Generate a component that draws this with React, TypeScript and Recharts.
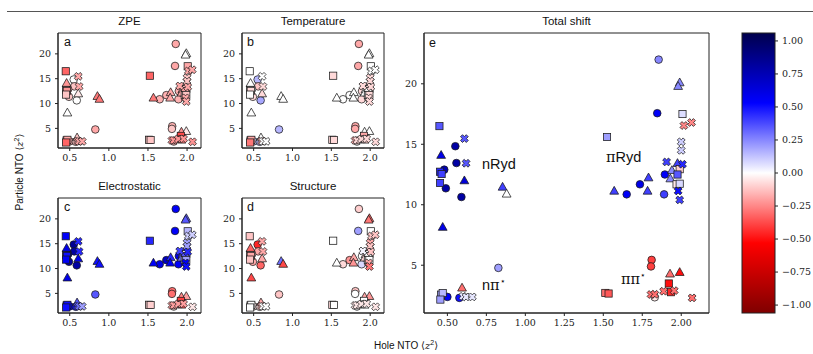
import React from 'react';
import { ScatterChart, Scatter, XAxis, YAxis, ReferenceArea } from 'recharts';

// ---------------- data ----------------
const circleHoleX = [1.855, 1.846, 0.551, 0.558, 0.48, 0.49, 0.59, 1.895, 1.65, 1.735, 1.89, 0.827, 1.81, 1.806, 1.83, 0.5, 0.577];
const circleParticleY = [22.0, 17.57, 14.84, 13.45, 12.9, 11.36, 10.64, 12.5, 10.86, 11.69, 10.86, 4.78, 5.44, 4.9, 2.35, 2.38, 2.3];
const circleZPE = [-0.18, -0.18, 0.0, -0.12, -0.16, -0.12, 0.0, -0.16, -0.16, -0.16, -0.16, -0.18, -0.16, -0.12, -0.12, -0.16, -0.12];
const circleTemp = [-0.18, -0.18, 0.15, -0.12, 0.0, -0.08, 0.18, -0.08, 0.0, 0.0, -0.08, 0.15, -0.18, -0.18, 0.0, 0.1, 0.15];
const circleElec = [0.55, 0.55, 0.85, 0.8, 0.8, 0.8, 0.8, 0.6, 0.6, 0.7, 0.55, 0.35, -0.3, -0.3, -0.05, 0.55, 0.5];
const circleStruct = [-0.1, 0.2, -0.45, -0.18, -0.12, -0.18, -0.32, 0.0, -0.08, -0.22, 0.08, -0.12, -0.12, 0.0, 0.0, -0.05, -0.05];
const circleTotal = [0.25, 0.55, 0.8, 0.8, 0.75, 0.8, 0.8, 0.55, 0.55, 0.6, 0.4, 0.2, -0.4, -0.4, -0.05, 0.55, 0.5];

const triangleHoleX = [1.99, 1.98, 0.46, 0.609, 0.854, 0.88, 1.79, 1.57, 1.784, 1.976, 1.94, 1.93, 0.47, 1.928, 1.99, 0.594];
const triangleParticleY = [20.1, 19.8, 14.1, 12.0, 11.47, 10.9, 12.24, 11.14, 11.14, 13.43, 12.85, 12.16, 8.15, 4.29, 4.42, 3.13];
const triangleZPE = [0.0, 0.0, -0.22, -0.05, -0.28, -0.28, -0.18, -0.28, -0.18, -0.18, -0.18, -0.18, 0.0, -0.22, -0.05, -0.12];
const triangleTemp = [0.0, 0.0, 0.0, -0.08, 0.0, 0.0, 0.0, 0.0, 0.0, 0.0, 0.0, 0.0, 0.0, 0.0, 0.0, 0.0];
const triangleElec = [0.35, 0.35, 0.6, 0.6, 0.5, 0.5, 0.45, 0.55, 0.55, 0.4, 0.3, 0.3, 0.6, -0.25, -0.2, 0.35];
const triangleStruct = [-0.32, -0.28, -0.32, -0.18, 0.3, -0.38, -0.18, 0.0, -0.22, -0.12, -0.08, -0.08, -0.38, -0.18, -0.22, -0.18];
const triangleTotal = [0.25, 0.25, 0.6, 0.65, 0.4, 0.0, 0.4, 0.4, 0.4, 0.4, 0.25, 0.25, 0.6, -0.3, -0.5, -0.3];

const squareHoleX = [0.449, 1.524, 2.008, 0.453, 0.463, 0.453, 1.99, 1.976, 1.97, 1.99, 1.92, 1.513, 1.534, 1.934, 0.46, 0.47, 0.455];
const squareParticleY = [16.5, 15.6, 17.5, 12.73, 12.54, 11.8, 12.94, 12.5, 11.69, 11.74, 3.49, 2.71, 2.66, 2.77, 2.57, 2.7, 2.16];
const squareZPE = [-0.32, -0.32, -0.18, -0.18, -0.22, -0.12, -0.12, -0.18, -0.12, -0.12, -0.38, -0.12, -0.12, -0.28, -0.18, -0.18, -0.32];
const squareTemp = [0.0, -0.08, 0.0, 0.0, -0.08, 0.0, -0.08, 0.0, 0.0, -0.08, -0.18, -0.08, -0.08, -0.12, -0.12, -0.18, -0.28];
const squareElec = [0.55, 0.45, 0.15, 0.55, 0.5, 0.55, 0.0, 0.35, 0.15, 0.2, -0.4, -0.1, -0.1, -0.35, 0.5, 0.5, 0.5];
const squareStruct = [-0.12, 0.0, 0.0, -0.12, -0.18, -0.12, 0.0, 0.0, 0.0, 0.0, 0.0, -0.08, 0.0, 0.0, -0.08, 0.0, 0.0];
const squareTotal = [0.35, 0.2, 0.07, 0.45, 0.4, 0.4, -0.1, 0.35, -0.05, 0.08, -0.5, -0.3, -0.35, -0.45, 0.2, 0.15, 0.2];

const crossHoleX = [2.017, 2.066, 0.609, 2.0, 2.0, 0.62, 1.906, 2.008, 1.98, 1.99, 1.806, 1.83, 1.887, 1.955, 2.07, 0.6, 0.62, 0.66];
const crossParticleY = [16.55, 16.8, 15.47, 15.2, 14.5, 13.43, 13.54, 13.35, 11.14, 10.4, 2.58, 2.6, 2.85, 2.9, 2.3, 2.43, 2.38, 2.38];
const crossZPE = [-0.18, -0.18, -0.18, -0.12, -0.12, -0.18, -0.18, -0.18, -0.18, -0.18, -0.22, -0.22, -0.22, -0.22, -0.22, -0.18, -0.18, -0.18];
const crossTemp = [0.0, 0.0, 0.0, -0.08, -0.08, -0.08, -0.08, -0.08, -0.08, -0.08, -0.18, -0.08, -0.08, -0.08, -0.08, -0.18, 0.0, 0.0];
const crossElec = [0.1, 0.1, 0.45, 0.2, 0.2, 0.45, 0.4, 0.45, 0.55, 0.5, -0.2, -0.2, -0.2, -0.2, -0.05, 0.35, 0.3, 0.2];
const crossStruct = [-0.12, -0.12, -0.18, -0.18, -0.12, -0.18, 0.02, -0.12, -0.18, -0.28, -0.05, -0.05, -0.05, -0.05, -0.05, -0.18, 0.0, 0.0];
const crossTotal = [-0.25, -0.25, 0.35, 0.1, 0.1, 0.35, 0.4, 0.45, 0.5, 0.4, -0.3, -0.3, -0.3, -0.3, -0.3, 0.05, 0.05, 0.05];

const smallXTicks = [0.5, 1.0, 1.5, 2.0];
const bigXTicks = [0.5, 0.75, 1.0, 1.25, 1.5, 1.75, 2.0];
const yTicks = [5, 10, 15, 20];
const colorbarTicks = [-1, -0.75, -0.5, -0.25, 0, 0.25, 0.5, 0.75, 1];

// ---------------- styling helpers ----------------
const VMIN = -1.06;
const VMAX = 1.06;
const X_DOMAIN: [number, number] = [0.35, 2.178];
const Y_DOMAIN: [number, number] = [1.05, 24.2];
const SERIF = "'DejaVu Serif', serif";
const SANS = "'Liberation Sans', Arial, sans-serif";

function seismicR(v: number): string {
  let t = (v - VMIN) / (VMAX - VMIN);
  t = Math.max(0, Math.min(1, t));
  const s = 1 - t;
  let r: number, g: number, b: number;
  if (s < 0.25) { r = 0; g = 0; b = 0.3 + 0.7 * (s / 0.25); }
  else if (s < 0.5) { const u = (s - 0.25) / 0.25; r = u; g = u; b = 1; }
  else if (s < 0.75) { const u = (s - 0.5) / 0.25; r = 1; g = 1 - u; b = 1 - u; }
  else { const u = (s - 0.75) / 0.25; r = 1 - 0.5 * u; g = 0; b = 0; }
  return `rgb(${Math.round(r * 255)},${Math.round(g * 255)},${Math.round(b * 255)})`;
}

function crossPath(cx: number, cy: number, L: number, w: number): string {
  const pts = [[-w, -L], [w, -L], [w, -w], [L, -w], [L, w], [w, w], [w, L], [-w, L], [-w, w], [-L, w], [-L, -w], [-w, -w]];
  const c = Math.SQRT1_2;
  return pts.map(([x, y], i) => {
    const rx = cx + (x * c - y * c);
    const ry = cy + (x * c + y * c);
    return `${i === 0 ? 'M' : 'L'}${rx.toFixed(2)},${ry.toFixed(2)}`;
  }).join(' ') + ' Z';
}

const makeShape = (kind: string) => (props: any) => {
  const { cx, cy } = props;
  if (cx == null || cy == null || isNaN(cx) || isNaN(cy)) return <g />;
  const v = props.payload?.v ?? props.v ?? 0;
  const common = { fill: seismicR(v), stroke: '#1a1a1a', strokeWidth: 0.75 };
  if (kind === 'o') return <circle cx={cx} cy={cy} r={3.8} {...common} />;
  if (kind === '^') return <polygon points={`${cx},${cy - 4.6} ${cx + 4.4},${cy + 3.2} ${cx - 4.4},${cy + 3.2}`} {...common} />;
  if (kind === 's') return <rect x={cx - 3.6} y={cy - 3.6} width={7.2} height={7.2} {...common} />;
  return <path d={crossPath(cx, cy, 4.1, 1.45)} {...common} />;
};

type PanelKey = 'zpe' | 'temp' | 'elec' | 'struct' | 'total';

const markerSets = [
  { kind: 'o', xs: circleHoleX, ys: circleParticleY, vals: { zpe: circleZPE, temp: circleTemp, elec: circleElec, struct: circleStruct, total: circleTotal } },
  { kind: '^', xs: triangleHoleX, ys: triangleParticleY, vals: { zpe: triangleZPE, temp: triangleTemp, elec: triangleElec, struct: triangleStruct, total: triangleTotal } },
  { kind: 's', xs: squareHoleX, ys: squareParticleY, vals: { zpe: squareZPE, temp: squareTemp, elec: squareElec, struct: squareStruct, total: squareTotal } },
  { kind: 'X', xs: crossHoleX, ys: crossParticleY, vals: { zpe: crossZPE, temp: crossTemp, elec: crossElec, struct: crossStruct, total: crossTotal } },
];

const tickStyle = { fontSize: 9.5, fontFamily: SERIF, fill: '#222' };

function Panel(p: { k: PanelKey; left: number; top: number; right: number; bottom: number; yw: number; xticks: number[]; fmt: (v: number) => string }) {
  const xh = 24;
  const ml = 2, mt = 2, mr = 4, mb = 2;
  const chartLeft = p.left - p.yw - ml;
  const chartTop = p.top - mt;
  const width = p.right - chartLeft + mr;
  const height = p.bottom - chartTop + xh + mb;
  return (
    <div style={{ position: 'absolute', left: chartLeft, top: chartTop }}>
      <ScatterChart width={width} height={height} margin={{ top: mt, right: mr, bottom: mb, left: ml }}>
        <XAxis type="number" dataKey="x" domain={X_DOMAIN} ticks={p.xticks} interval={0} allowDataOverflow
          tickFormatter={p.fmt} tickSize={3} tickMargin={3} height={xh} stroke="#222" tick={tickStyle} />
        <YAxis type="number" dataKey="y" domain={Y_DOMAIN} ticks={yTicks} interval={0} allowDataOverflow
          tickSize={3} tickMargin={4} width={p.yw} stroke="#222" tick={tickStyle} />
        <ReferenceArea x1={X_DOMAIN[0]} x2={X_DOMAIN[1]} y1={Y_DOMAIN[0]} y2={Y_DOMAIN[1]} fill="#fff" fillOpacity={1} stroke="#222" strokeWidth={1} ifOverflow="visible" />
        {markerSets.map((m) => (
          <Scatter key={m.kind} data={m.xs.map((x, i) => ({ x, y: m.ys[i], v: m.vals[p.k][i] }))}
            shape={makeShape(m.kind)} isAnimationActive={false} />
        ))}
      </ScatterChart>
    </div>
  );
}

const fmt1 = (v: number) => v.toFixed(1);
const fmt2 = (v: number) => v.toFixed(2);
const fmtCb = (v: number) => (v < 0 ? '\u2212' + Math.abs(v).toFixed(2) : v.toFixed(2));

function Colorbar() {
  const left = 742, top = 33, right = 775, bottom = 313;
  const ys = (v: number) => top + ((VMAX - v) / (VMAX - VMIN)) * (bottom - top);
  const stops = [] as React.ReactElement[];
  for (let i = 0; i <= 40; i++) {
    const f = i / 40;
    const v = VMAX - f * (VMAX - VMIN);
    stops.push(<stop key={i} offset={f} stopColor={seismicR(v)} />);
  }
  return (
    <g>
      <defs>
        <linearGradient id="cbGrad" x1="0" y1="0" x2="0" y2="1">{stops}</linearGradient>
      </defs>
      <rect x={left} y={top} width={right - left} height={bottom - top} fill="url(#cbGrad)" stroke="#222" strokeWidth={1} />
      {colorbarTicks.map((t) => (
        <g key={t}>
          <line x1={right} x2={right + 3} y1={ys(t)} y2={ys(t)} stroke="#222" strokeWidth={1} />
          <text x={right + 7} y={ys(t)} dy="0.35em" fontFamily={SERIF} fontSize={9.5} fill="#222">{fmtCb(t)}</text>
        </g>
      ))}
    </g>
  );
}

export default function App() {
  const title = { fontFamily: SANS, fontSize: 11.5, fill: '#111', textAnchor: 'middle' as const };
  const letter = { fontFamily: SANS, fontSize: 12.5, fill: '#111' };
  const ann = { fontFamily: SANS, fontSize: 14.5, fill: '#111' };
  return (
    <div style={{ position: 'absolute', left: 0, top: 0, width: 813, height: 354, overflow: 'hidden', background: '#fff' }}>
      <Panel k="zpe" left={58} top={33} right={201} bottom={148} yw={30} xticks={smallXTicks} fmt={fmt1} />
      <Panel k="temp" left={242} top={33} right={384} bottom={148} yw={30} xticks={smallXTicks} fmt={fmt1} />
      <Panel k="elec" left={58} top={198} right={201} bottom={313} yw={30} xticks={smallXTicks} fmt={fmt1} />
      <Panel k="struct" left={242} top={198} right={384} bottom={313} yw={30} xticks={smallXTicks} fmt={fmt1} />
      <Panel k="total" left={424} top={33} right={709} bottom={313} yw={36} xticks={bigXTicks} fmt={fmt2} />
      <svg width={813} height={354} style={{ position: 'absolute', left: 0, top: 0, pointerEvents: 'none' }}>
        <line x1={7} y1={11.5} x2={813} y2={11.5} stroke="#555" strokeWidth={1} />
        <Colorbar />
        <text x={129.5} y={25} {...title}>ZPE</text>
        <text x={313} y={25} {...title}>Temperature</text>
        <text x={129.5} y={190} {...title}>Electrostatic</text>
        <text x={313} y={190} {...title}>Structure</text>
        <text x={566.5} y={25} {...title}>Total shift</text>
        <text x={64} y={46} {...letter}>a</text>
        <text x={247} y={46} {...letter}>b</text>
        <text x={64} y={211} {...letter}>c</text>
        <text x={247} y={211} {...letter}>d</text>
        <text x={429} y={47} {...letter}>e</text>
        <text x={482} y={168.5} {...ann}>nRyd</text>
        <text x={606} y={162} {...ann}><tspan fontFamily={SERIF}>π</tspan>Ryd</text>
        <text x={482} y={290} {...ann}>n<tspan fontFamily={SERIF}>π</tspan><tspan fontSize={9} dy={-6}>⋆</tspan></text>
        <text x={621} y={284} {...ann}><tspan fontFamily={SERIF}>ππ</tspan><tspan fontSize={9} dy={-6}>⋆</tspan></text>
        <text transform="translate(23,172) rotate(-90)" textAnchor="middle" fontFamily={SANS} fontSize={10} fill="#111">
          Particle NTO <tspan fontFamily="'DejaVu Sans'">⟨</tspan><tspan fontFamily={SERIF} fontStyle="italic">z</tspan><tspan fontSize={7} dy={-4}>2</tspan><tspan fontFamily="'DejaVu Sans'" dy={4}>⟩</tspan>
        </text>
        <text x={406} y={349} textAnchor="middle" fontFamily={SANS} fontSize={10} fill="#111">
          Hole NTO <tspan fontFamily="'DejaVu Sans'">⟨</tspan><tspan fontFamily={SERIF} fontStyle="italic">z</tspan><tspan fontSize={7} dy={-4}>2</tspan><tspan fontFamily="'DejaVu Sans'" dy={4}>⟩</tspan>
        </text>
      </svg>
    </div>
  );
}
